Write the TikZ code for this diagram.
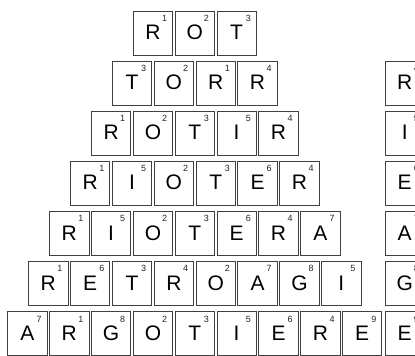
\documentclass[tikz,border=0pt]{standalone}
\usepackage{fontspec}
\setmainfont{Liberation Sans}
\begin{document}
\begin{tikzpicture}[x=1pt,y=-1pt,
  tile/.style={draw=black!75, line width=0.9pt, fill=white,
    minimum width=39.4pt, minimum height=44pt, inner sep=0pt,
    text height=15pt, text depth=0pt,
    font=\fontsize{21}{21}\selectfont},
  num/.style={inner sep=0pt, font=\fontsize{9}{9}\selectfont, text=black!85}]
\useasboundingbox (0,0) rectangle (415,356);
\clip (0,0) rectangle (415,356);
\foreach \r/\n/\items in {
  1/3/{R/1,O/2,T/3},
  2/4/{T/3,O/2,R/1,R/4},
  3/5/{R/1,O/2,T/3,I/5,R/4},
  4/6/{R/1,I/5,O/2,T/3,E/6,R/4},
  5/7/{R/1,I/5,O/2,T/3,E/6,R/4,A/7},
  6/8/{R/1,E/6,T/3,R/4,O/2,A/7,G/8,I/5},
  7/9/{A/7,R/1,G/8,O/2,T/3,I/5,E/6,R/4,E/9}}{
  \foreach \L/\N [count=\c] in \items {
    \node[tile] (r\r c\c) at ({194.8+(\c-(\n+1)/2)*41.85},{33.3+(\r-1)*50.1}) {\raisebox{1.2pt}{\L}};
    \node[num] (r\r c\c n) at ([xshift=-8.5pt,yshift=-7.5pt]r\r c\c.north east) {\N};
  }
}
\foreach \L/\N [count=\k] in {R/4,I/5,E/6,A/7,G/8,E/9}{
  \node[tile] (s\k) at (404.7,{33.3+\k*50.1}) {\raisebox{1.2pt}{\L}};
  \node[num] (s\k n) at ([xshift=-8.5pt,yshift=-7.5pt]s\k.north east) {\N};
}
\end{tikzpicture}
\end{document}
